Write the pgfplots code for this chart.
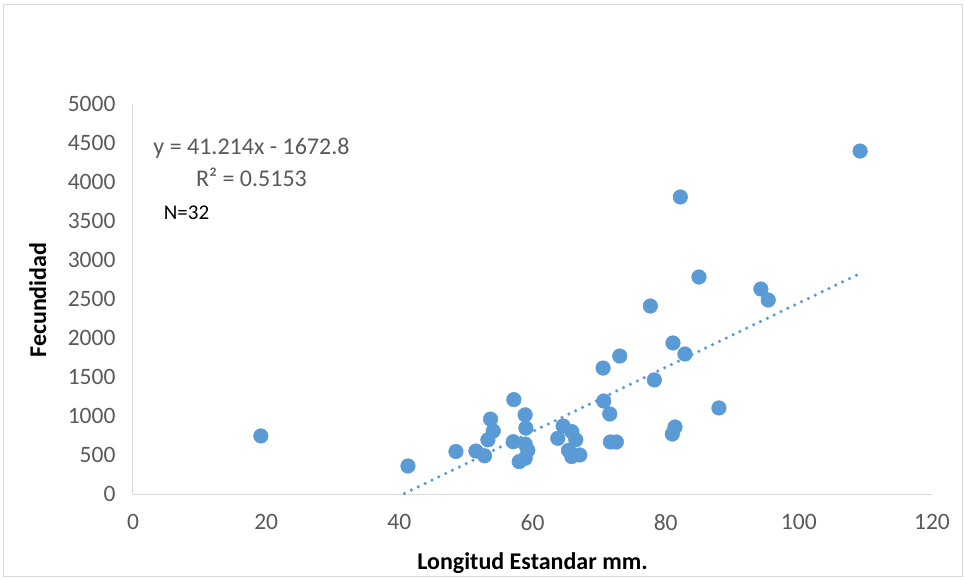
\documentclass[border=0pt]{standalone}
\usepackage{pgfplots}
\pgfplotsset{compat=1.18}
\usepackage{fontspec}
\setmainfont{Carlito}
\definecolor{excelblue}{HTML}{5B9BD5}
\definecolor{tickgray}{HTML}{595959}
\definecolor{axisgray}{HTML}{D9D9D9}
\begin{document}
\begin{tikzpicture}
\useasboundingbox (-133pt,-85pt) rectangle (831pt,494pt);
\draw[axisgray, line width=1pt] (-129pt,-82pt) rectangle (829pt,489pt);
\begin{axis}[
  at={(0pt,0pt)}, anchor=south west,
  scale only axis, width=799pt, height=390pt,
  xmin=0, xmax=120, ymin=0, ymax=5000,
  xtick={0,20,...,120}, ytick={0,500,...,5000},
  axis lines*=left,
  axis line style={axisgray, line width=1pt},
  major tick length=0pt,
  /pgf/number format/assume math mode=true,
  /pgf/number format/1000 sep={},
  scaled y ticks=false,
  tick label style={font=\fontsize{23.5}{23.5}\selectfont, text=tickgray},
  xticklabel style={yshift=-17pt},
  yticklabel style={xshift=-14pt},
  xlabel={\textbf{Longitud Estandar mm.}},
  ylabel={\textbf{Fecundidad}},
  label style={font=\fontsize{24}{24}\selectfont, text=black},
  xlabel style={at={(axis description cs:0.5,-0.177)}, anchor=center},
  ylabel style={at={(axis description cs:-0.119,0.497)}, anchor=center},
]
\addplot[only marks, mark=*, mark size=7.3pt, mark options={fill=excelblue, draw=excelblue, line width=0.5pt}] coordinates {
(19.2,744) (41.3,359) (48.5,545) (51.5,551) (52.8,490) (53.3,695) (53.7,960)
(54.1,808) (57.2,1210) (57.1,670) (58.0,415) (58.9,1015) (59.0,845) (58.9,640)
(58.9,458) (59.3,560) (63.8,714) (64.6,872) (65.9,800) (66.5,695) (65.4,560)
(65.9,480) (67.1,500) (70.6,1615) (73.1,1769) (70.7,1192) (71.6,1026)
(71.7,667) (72.6,667) (77.7,2410) (78.3,1462) (81.0,769) (81.4,859)
(81.1,1936) (82.9,1795) (82.2,3808) (85.0,2782) (88.0,1103) (94.3,2628)
(95.4,2487) (109.2,4397)
};
\addplot[excelblue, line width=3.5pt, line cap=round, dash pattern=on 0pt off 7.6pt] coordinates {
(19.2,-881.5) (108.8,2811.3)
};
\node[font=\fontsize{24}{24}\selectfont, text=tickgray] at (axis description cs:0.1483,0.887) {y = 41.214x - 1672.8};
\node[font=\fontsize{24}{24}\selectfont, text=tickgray] at (axis description cs:0.1483,0.8128) {R² = 0.5153};
\node[font=\fontsize{21}{21}\selectfont, text=black] at (axis description cs:0.067,0.7205) {N=32};
\end{axis}
\end{tikzpicture}
\end{document}
